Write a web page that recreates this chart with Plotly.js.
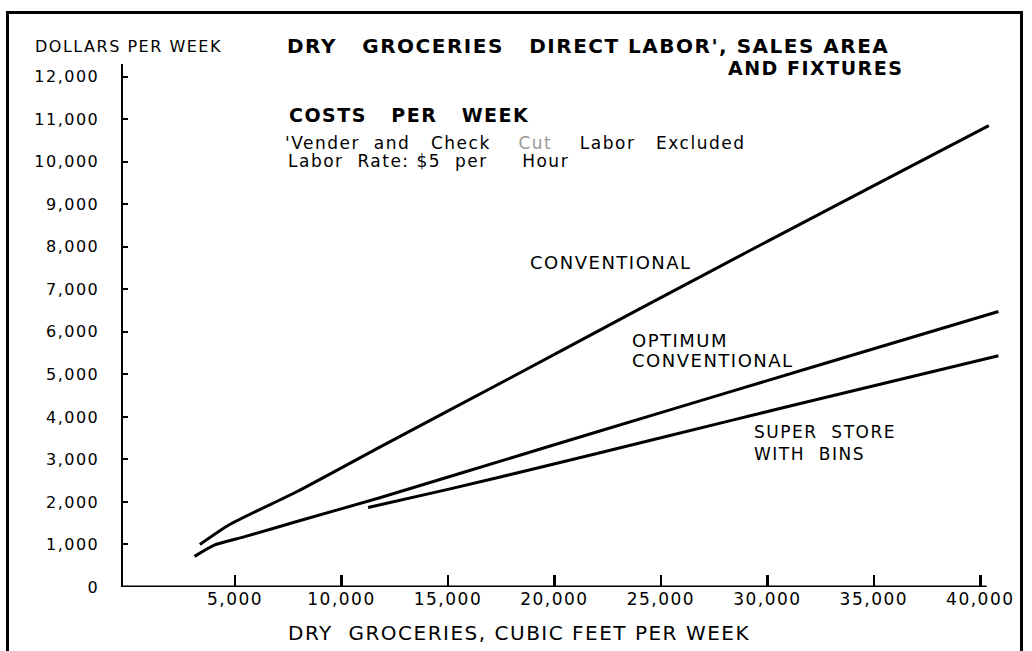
<!DOCTYPE html>
<html>
<head>
<meta charset="utf-8">
<script src="https://cdn.plot.ly/plotly-3.0.1.min.js"></script>
<style>
  html, body { margin: 0; padding: 0; background: #fff; }
  #wrap { position: relative; width: 1032px; height: 651px; overflow: hidden; }
  #chart { width: 1032px; height: 651px; }
  #frame { position: absolute; left: 6px; top: 11px; width: 1011px; height: 700px;
           border: 3px solid #000; pointer-events: none; }
  svg text { letter-spacing: 1.5px; }
</style>
</head>
<body>
<div id="wrap">
  <div id="chart"></div>
  <div id="frame"></div>
</div>
<script>
// ---- data ----
const conventionalX = [3350, 4750, 7900, 11800, 17900, 24000, 30000, 35000, 40400];
const conventionalY = [1000, 1470, 2240, 3290, 4910, 6540, 8130, 9440, 10850];

const optimumX = [3100, 4050, 5500, 7900, 11800, 19300, 25000, 31500, 40850];
const optimumY = [720, 990, 1190, 1540, 2100, 3240, 4100, 5080, 6480];

const superStoreX = [11250, 14950, 19300, 25000, 31500, 40850];
const superStoreY = [1870, 2290, 2810, 3510, 4310, 5440];

const xTickVals = [5000, 10000, 15000, 20000, 25000, 30000, 35000, 40000];
const yTickVals = [0, 1000, 2000, 3000, 4000, 5000, 6000, 7000, 8000, 9000, 10000, 11000, 12000];

// ---- layout helpers ----
const FONT = "DejaVu Sans";
const M = { l: 123, r: 24, t: 64, b: 64 };
const PW = 1032 - M.l - M.r, PH = 651 - M.t - M.b;
const fx = p => (p - M.l) / PW;
const fy = p => (651 - M.b - p) / PH;
const sp = n => "\u00A0".repeat(n);

const lineStyle = { color: "#000", width: 3, shape: "spline", smoothing: 0.6 };
const traces = [
  { x: conventionalX, y: conventionalY, name: "Conventional", mode: "lines", line: lineStyle },
  { x: optimumX, y: optimumY, name: "Optimum conventional", mode: "lines", line: lineStyle },
  { x: superStoreX, y: superStoreY, name: "Super store with bins", mode: "lines", line: lineStyle }
];

function ann(text, px, py, size, anchor, bold) {
  return {
    text: bold ? "<b>" + text + "</b>" : text,
    xref: "paper", yref: "paper", x: fx(px), y: fy(py),
    xanchor: anchor || "left", yanchor: "middle", showarrow: false,
    font: { family: FONT, size: size, color: "#000" }
  };
}

const annotations = [
  ann("DOLLARS PER WEEK", 33, 46, 16),
  ann("AND" + sp(1) + "FIXTURES", 905, 68, 19, "right", true),
  ann("COSTS" + sp(3) + "PER" + sp(3) + "WEEK", 287, 115, 19, "left", true),
  ann("'Vender" + sp(2) + "and" + sp(3) + "Check" + sp(4) + "<span style='color:#9a9a9a'>Cut</span>" + sp(4) + "Labor" + sp(3) + "Excluded", 283, 143, 17),
  ann("Labor" + sp(2) + "Rate:" + sp(1) + "$5" + sp(2) + "per" + sp(5) + "Hour", 286, 161, 17),
  ann("CONVENTIONAL", 528, 262, 18),
  ann("OPTIMUM", 630, 340, 18),
  ann("CONVENTIONAL", 630, 360, 18),
  ann("SUPER" + sp(2) + "STORE", 752, 432, 17),
  ann("WITH" + sp(2) + "BINS", 752, 454, 17),
  ann("DRY" + sp(2) + "GROCERIES," + sp(1) + "CUBIC" + sp(1) + "FEET" + sp(1) + "PER" + sp(1) + "WEEK", 519, 633, 20, "center")
];

const layout = {
  width: 1032, height: 651,
  margin: M,
  paper_bgcolor: "#fff", plot_bgcolor: "#fff",
  showlegend: false,
  title: {
    text: "<b>DRY" + sp(3) + "GROCERIES" + sp(3) + "DIRECT" + sp(1) + "LABOR'," + sp(1) + "SALES" + sp(1) + "AREA</b>",
    xref: "container", yref: "container",
    x: 287 / 1032, xanchor: "left",
    y: 1 - 46 / 651, yanchor: "middle",
    font: { family: FONT, size: 20, color: "#000" }
  },
  xaxis: {
    range: [-260, 41300],
    showgrid: false, zeroline: false, showline: false,
    tickmode: "array", tickvals: xTickVals, tickformat: ",d",
    ticks: "inside", ticklen: 12, tickwidth: 2.5, tickcolor: "#000",
    tickfont: { family: FONT, size: 17, color: "#000" },
    automargin: false
  },
  yaxis: {
    range: [0, 12300],
    showgrid: false, zeroline: false,
    showline: true, linecolor: "#000", linewidth: 2.5,
    tickmode: "array", tickvals: yTickVals, tickformat: ",d",
    ticks: "inside", ticklen: 5, tickwidth: 2, tickcolor: "#000",
    ticklabelstandoff: 18,
    tickfont: { family: FONT, size: 16, color: "#000" },
    automargin: false
  },
  shapes: [
    { type: "line", xref: "x", yref: "y", x0: -260, x1: 40300, y0: 0, y1: 0,
      line: { color: "#000", width: 3 } }
  ],
  annotations: annotations
};

Plotly.newPlot("chart", traces, layout, { displayModeBar: false, staticPlot: true });
</script>
</body>
</html>
